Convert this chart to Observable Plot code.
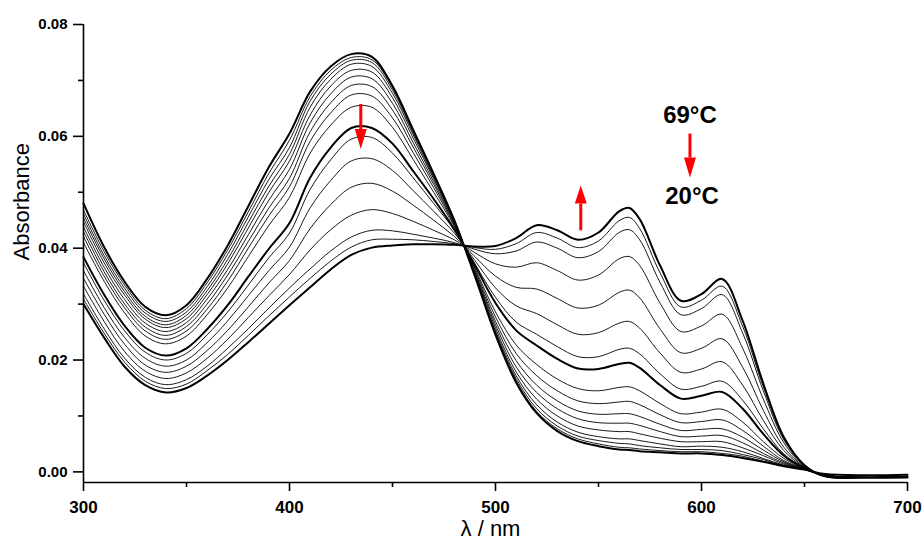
<!DOCTYPE html>
<html><head><meta charset="utf-8">
<script src="https://cdn.jsdelivr.net/npm/d3@7"></script>
<script src="https://cdn.jsdelivr.net/npm/@observablehq/plot@0.6"></script>
<style>
body{margin:0;background:#fff}
svg{display:block}
</style>
</head><body><div id="chart"></div>
<script>
// Wavelength grid (nm)
const wavelengths = [300,310,320,330,340,350,360,370,380,390,400,410,420,430,440,450,460,470,480,490,500,510,520,530,540,550,560,565,570,580,590,600,610,620,630,640,650,660,680,700];

// Absorbance spectra, from 69 °C (A01) down to 20 °C (A17)
const A01 = [.0480,.0402,.0340,.0295,.0280,.0298,.0345,.0405,.0475,.0545,.0605,.0680,.0725,.0747,.0742,.0690,.0612,.0533,.0450,.0350,.0245,.0160,.0105,.0073,.0055,.0046,.0040,.0039,.0037,.0035,.0033,.0033,.0030,.0025,.0018,.0010,.0004,-.0004,-.0006,-.0005];
const A02 = [.0468,.0394,.0334,.0289,.0274,.0292,.0338,.0397,.0465,.0534,.0593,.0671,.0718,.0741,.0737,.0687,.0610,.0532,.0450,.0351,.0247,.0163,.0108,.0077,.0059,.0050,.0044,.0043,.0041,.0038,.0036,.0036,.0033,.0028,.0019,.0011,.0004,-.0006,-.0010,-.0008];
const A03 = [.0461,.0387,.0328,.0284,.0269,.0286,.0331,.0389,.0456,.0523,.0580,.0663,.0711,.0736,.0732,.0683,.0607,.0530,.0449,.0351,.0249,.0167,.0113,.0082,.0064,.0056,.0051,.0050,.0047,.0043,.0040,.0040,.0038,.0031,.0022,.0011,.0004,-.0006,-.0010,-.0008];
const A04 = [.0454,.0381,.0322,.0278,.0263,.0280,.0324,.0380,.0446,.0511,.0568,.0652,.0702,.0729,.0725,.0677,.0603,.0527,.0448,.0352,.0252,.0172,.0120,.0089,.0071,.0063,.0059,.0059,.0056,.0050,.0045,.0046,.0044,.0036,.0024,.0012,.0004,-.0006,-.0010,-.0008];
const A05 = [.0447,.0374,.0316,.0273,.0258,.0274,.0317,.0372,.0436,.0500,.0556,.0638,.0690,.0718,.0715,.0669,.0597,.0524,.0447,.0354,.0257,.0179,.0130,.0100,.0082,.0075,.0072,.0072,.0068,.0060,.0054,.0054,.0054,.0043,.0029,.0014,.0005,-.0006,-.0010,-.0008];
const A06 = [.0438,.0366,.0308,.0266,.0251,.0267,.0309,.0362,.0424,.0486,.0541,.0624,.0676,.0706,.0703,.0659,.0589,.0519,.0445,.0356,.0263,.0188,.0142,.0113,.0095,.0088,.0087,.0087,.0083,.0072,.0063,.0064,.0065,.0052,.0033,.0016,.0005,-.0006,-.0010,-.0008];
const A07 = [.0430,.0358,.0300,.0259,.0244,.0260,.0300,.0352,.0412,.0472,.0525,.0608,.0660,.0691,.0689,.0647,.0581,.0514,.0443,.0358,.0269,.0199,.0155,.0127,.0109,.0103,.0104,.0104,.0099,.0085,.0074,.0076,.0077,.0062,.0039,.0018,.0005,-.0006,-.0010,-.0008];
const A08 = [.0421,.0350,.0293,.0252,.0237,.0252,.0291,.0341,.0400,.0458,.0510,.0591,.0642,.0674,.0672,.0633,.0571,.0508,.0441,.0361,.0277,.0212,.0172,.0145,.0127,.0122,.0125,.0126,.0120,.0102,.0088,.0090,.0093,.0074,.0046,.0020,.0006,-.0006,-.0010,-.0008];
const A09 = [.0410,.0341,.0284,.0243,.0229,.0243,.0281,.0329,.0385,.0441,.0491,.0570,.0620,.0652,.0652,.0616,.0559,.0500,.0439,.0364,.0286,.0227,.0192,.0166,.0149,.0145,.0151,.0152,.0145,.0122,.0104,.0107,.0112,.0089,.0054,.0024,.0006,-.0007,-.0010,-.0009];
const A10 = [.0384,.0317,.0261,.0222,.0208,.0221,.0255,.0298,.0349,.0399,.0445,.0526,.0580,.0615,.0615,.0587,.0538,.0488,.0434,.0369,.0302,.0253,.0226,.0202,.0185,.0184,.0193,.0195,.0186,.0155,.0131,.0136,.0143,.0113,.0068,.0029,.0007,-.0007,-.0010,-.0009];
const A11 = [.0374,.0307,.0252,.0214,.0200,.0212,.0245,.0286,.0334,.0383,.0427,.0505,.0558,.0595,.0598,.0570,.0526,.0480,.0432,.0372,.0312,.0268,.0246,.0224,.0206,.0206,.0219,.0221,.0211,.0175,.0148,.0153,.0162,.0128,.0077,.0032,.0007,-.0007,-.0010,-.0009];
const A12 = [.0360,.0294,.0240,.0203,.0189,.0200,.0231,.0270,.0315,.0360,.0402,.0472,.0521,.0556,.0560,.0539,.0503,.0466,.0427,.0378,.0329,.0297,.0283,.0263,.0246,.0249,.0266,.0269,.0257,.0212,.0178,.0184,.0197,.0155,.0092,.0038,.0008,-.0007,-.0010,-.0009];
const A13 = [.0346,.0282,.0228,.0191,.0178,.0189,.0217,.0253,.0295,.0338,.0378,.0435,.0478,.0509,.0516,.0502,.0477,.0450,.0421,.0385,.0350,.0330,.0327,.0310,.0293,.0298,.0321,.0325,.0311,.0255,.0213,.0221,.0238,.0187,.0110,.0044,.0009,-.0007,-.0010,-.0009];
const A14 = [.0332,.0269,.0215,.0180,.0167,.0177,.0203,.0237,.0276,.0315,.0353,.0397,.0433,.0459,.0469,.0462,.0448,.0432,.0415,.0392,.0372,.0366,.0374,.0360,.0343,.0352,.0381,.0385,.0369,.0301,.0251,.0261,.0282,.0221,.0130,.0052,.0010,-.0008,-.0010,-.0010];
const A15 = [.0318,.0256,.0203,.0169,.0156,.0165,.0189,.0221,.0256,.0293,.0329,.0363,.0395,.0420,.0432,.0431,.0425,.0418,.0410,.0398,.0390,.0395,.0411,.0400,.0383,.0394,.0428,.0433,.0415,.0338,.0281,.0292,.0317,.0248,.0145,.0057,.0011,-.0008,-.0010,-.0010];
const A16 = [.0309,.0248,.0196,.0162,.0149,.0157,.0181,.0210,.0244,.0279,.0313,.0346,.0377,.0402,.0415,.0416,.0415,.0412,.0408,.0401,.0398,.0408,.0428,.0418,.0401,.0413,.0449,.0455,.0435,.0355,.0295,.0307,.0332,.0260,.0152,.0060,.0012,-.0008,-.0010,-.0010];
const A17 = [.0300,.0240,.0188,.0155,.0142,.0150,.0172,.0200,.0232,.0265,.0298,.0330,.0362,.0388,.0401,.0405,.0407,.0407,.0406,.0403,.0404,.0418,.0441,.0432,.0415,.0428,.0466,.0472,.0452,.0368,.0306,.0318,.0345,.0270,.0158,.0062,.0012,-.0008,-.0010,-.0010];

const spectra = [A01,A02,A03,A04,A05,A06,A07,A08,A09,A10,A11,A12,A13,A14,A15,A16,A17];
const thickSpectra = [0, 9, 16];

// Axis ticks
const xTicks = [300, 400, 500, 600, 700];
const xMinorTicks = [350, 450, 550, 650];
const yTicks = [0, 0.02, 0.04, 0.06, 0.08];
const yMinorTicks = [0.01, 0.03, 0.05, 0.07];
const xDomain = [300, 700];
const yDomain = [-0.0019, 0.08];

// Annotations
const tempLabels = [
  {text: "69°C", x: 594.4, y: 0.0637},
  {text: "20°C", x: 595.4, y: 0.0493}
];
const arrows = [
  {x: 434.6, tail: 0.0658, base: 0.0613, dir: "down"},
  {x: 541.4, tail: 0.0432, base: 0.0480, dir: "up"},
  {x: 594.4, tail: 0.0605, base: 0.0562, dir: "down"}
];

// Build table
const rows = [];
spectra.forEach((s, k) => s.forEach((a, i) => rows.push({wl: wavelengths[i], a, k, thick: thickSpectra.includes(k)})));
const thinRows = rows.filter(d => !d.thick);
const thickRows = rows.filter(d => d.thick);

const headDown = {draw(ctx) { ctx.moveTo(-6, 0); ctx.lineTo(6, 0); ctx.lineTo(0, 20); ctx.closePath(); }};
const headUp = {draw(ctx) { ctx.moveTo(-6, 0); ctx.lineTo(6, 0); ctx.lineTo(0, -18); ctx.closePath(); }};

const font = "'Liberation Sans', Arial, Helvetica, sans-serif";

const chart = Plot.plot({
  width: 924,
  height: 541,
  marginLeft: 83,
  marginRight: 17,
  marginTop: 24,
  marginBottom: 59,
  style: {fontFamily: font, color: "#000", background: "#fff"},
  x: {domain: xDomain},
  y: {domain: yDomain},
  marks: [
    Plot.line(thinRows, {x: "wl", y: "a", z: "k", stroke: "#000", strokeWidth: 0.9, curve: "catmull-rom"}),
    Plot.line(thickRows, {x: "wl", y: "a", z: "k", stroke: "#000", strokeWidth: 2, curve: "catmull-rom"}),
    Plot.ruleX([xDomain[0]], {stroke: "#000", strokeWidth: 1.6}),
    Plot.ruleY([yDomain[0]], {stroke: "#000", strokeWidth: 1.6}),
    Plot.axisX(xTicks, {tickSize: 9, tickPadding: 9, strokeWidth: 1.6, fontSize: 17, fontWeight: "bold", label: null}),
    Plot.axisX(xMinorTicks, {tickSize: 5, strokeWidth: 1.6, tickFormat: () => "", label: null}),
    Plot.axisY(yTicks, {tickSize: 10, tickPadding: 6, strokeWidth: 1.6, tickFormat: d3.format(".2f"), fontSize: 15, fontWeight: "bold", label: null}),
    Plot.axisY(yMinorTicks, {tickSize: 5, strokeWidth: 1.6, tickFormat: () => "", label: null}),
    Plot.text(["Absorbance"], {frameAnchor: "left", dx: -62, dy: 7, rotate: -90, fontSize: 22, lineAnchor: "middle", fill: "#000"}),
    Plot.text(["λ / nm"], {frameAnchor: "bottom", dx: -5, dy: 46, fontSize: 22, lineAnchor: "middle", fill: "#000"}),
    Plot.link(arrows, {x1: "x", x2: "x", y1: "tail", y2: "base", stroke: "#ff0000", strokeWidth: 3}),
    Plot.dot(arrows.filter(d => d.dir === "down"), {x: "x", y: "base", symbol: headDown, fill: "#ff0000", stroke: "none"}),
    Plot.dot(arrows.filter(d => d.dir === "up"), {x: "x", y: "base", symbol: headUp, fill: "#ff0000", stroke: "none"}),
    Plot.text(tempLabels, {x: "x", y: "y", text: "text", fontSize: 24, fontWeight: "bold", lineAnchor: "middle", fill: "#000"})
  ]
});
document.getElementById("chart").appendChild(chart);
</script>
</body></html>
